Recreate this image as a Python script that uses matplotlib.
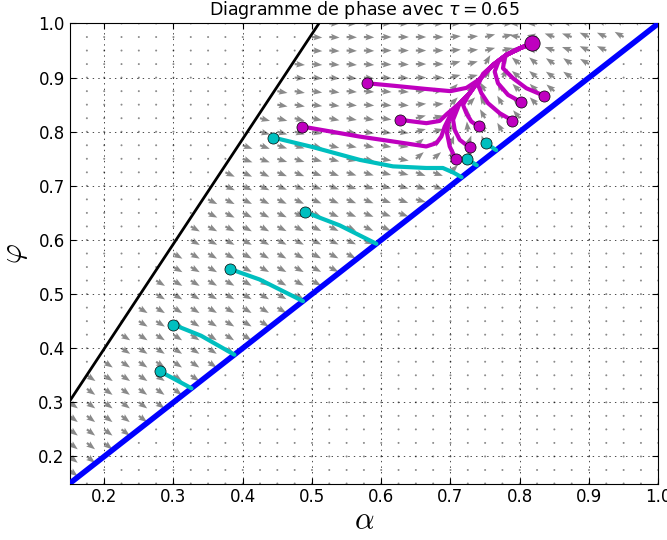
import numpy as np
import matplotlib
matplotlib.use("Agg")
import matplotlib.pyplot as plt

N = np.nan

# Phase-diagram boundaries
blue_alpha = [0.15, 1.0]
blue_phi = [0.15, 1.0]
black_alpha = [0.15, 0.51]
black_phi = [0.302, 1.0]

# Direction of the gray arrows, screen degrees, one value per 0.05 x 0.05 cell.
# Rows go from phi = 1.0 (top) down to phi = 0.15; columns alpha = 0.15 ... 1.0
arrow_angles = [
    [N, N, N, N, N, N, N, 0, 0, 0, 0, 0, 0, 180, 170, 160, 155, N],
    [N, N, N, N, N, N, -3, -3, -2, 0, 0, 5, 15, 170, 160, 155, 150, N],
    [N, N, N, N, N, N, -5, -5, -5, -3, 0, 15, 60, 140, 145, 150, N, N],
    [N, N, N, N, N, -10, -10, -8, -5, -5, 5, 45, 120, 135, 140, N, N, N],
    [N, N, N, N, N, -15, -15, -12, -10, -8, 15, 95, 120, 130, N, N, N, N],
    [N, N, N, N, -22, -20, -18, -15, -12, -10, 40, 70, 110, N, N, N, N, N],
    [N, N, N, N, -25, -25, -22, -20, -18, -15, -20, 45, N, N, N, N, N, N],
    [N, N, N, -27, -27, -26, -25, -23, -22, -20, -15, N, N, N, N, N, N, N],
    [N, N, N, -29, -28, -28, -27, -26, -25, -24, N, N, N, N, N, N, N, N],
    [N, N, -30, -30, -30, -29, -29, -28, -28, N, N, N, N, N, N, N, N, N],
    [N, N, -31, -31, -30, -30, -29, -29, N, N, N, N, N, N, N, N, N, N],
    [N, -32, -32, -32, -31, -31, -31, N, N, N, N, N, N, N, N, N, N, N],
    [N, -33, -33, -33, -33, -33, N, N, N, N, N, N, N, N, N, N, N, N],
    [-34, -34, -34, -34, -34, N, N, N, N, N, N, N, N, N, N, N, N, N],
    [-36, -36, -36, -36, N, N, N, N, N, N, N, N, N, N, N, N, N, N],
    [-37, -37, -37, N, N, N, N, N, N, N, N, N, N, N, N, N, N, N],
    [-38, -38, N, N, N, N, N, N, N, N, N, N, N, N, N, N, N, N],
    [-38, N, N, N, N, N, N, N, N, N, N, N, N, N, N, N, N, N],
]

# Cyan trajectories (end on the diagonal)
cyan_1_alpha = [0.2805, 0.300, 0.326]
cyan_1_phi = [0.357, 0.344, 0.326]
cyan_2_alpha = [0.2997, 0.340, 0.388]
cyan_2_phi = [0.4437, 0.423, 0.388]
cyan_3_alpha = [0.3815, 0.4248, 0.487]
cyan_3_phi = [0.5465, 0.5268, 0.487]
cyan_4_alpha = [0.4897, 0.540, 0.593]
cyan_4_phi = [0.6517, 0.627, 0.593]
cyan_5_alpha = [0.4439, 0.500, 0.569, 0.617, 0.665, 0.689, 0.705, 0.716]
cyan_5_phi = [0.7893, 0.772, 0.748, 0.736, 0.733, 0.733, 0.724, 0.716]
cyan_6_alpha = [0.7239, 0.738]
cyan_6_phi = [0.7494, 0.738]
cyan_7_alpha = [0.7508, 0.766]
cyan_7_phi = [0.7789, 0.766]

# Shared upper part of the magenta trajectories, ending on the attractor
trunk_alpha = [0.742, 0.7614, 0.7806, 0.7999, 0.8182]
trunk_phi = [0.897, 0.9234, 0.9419, 0.9542, 0.9634]

mag_a_alpha = [0.5796, 0.620, 0.665, 0.700, 0.723] + trunk_alpha
mag_a_phi = [0.8896, 0.8847, 0.879, 0.875, 0.881] + trunk_phi
mag_b_alpha = [0.4858, 0.569, 0.617, 0.665, 0.6796, 0.6868, 0.6917, 0.6989, 0.7133, 0.7277] + trunk_alpha
mag_b_phi = [0.8096, 0.791, 0.782, 0.7728, 0.7789, 0.7912, 0.8097, 0.8281, 0.8527, 0.8712] + trunk_phi
mag_c_alpha = [0.6267, 0.6652, 0.6844, 0.6950, 0.7133, 0.7277] + trunk_alpha
mag_c_phi = [0.822, 0.8158, 0.820, 0.833, 0.8527, 0.8712] + trunk_phi
mag_d_alpha = [0.7075, 0.6989, 0.6950, 0.6965, 0.7037, 0.7133, 0.7277] + trunk_alpha
mag_d_phi = [0.7494, 0.7728, 0.7974, 0.8158, 0.840, 0.8527, 0.8712] + trunk_phi
mag_e_alpha = [0.7277, 0.7133, 0.7061, 0.7037, 0.7133, 0.7277] + trunk_alpha
mag_e_phi = [0.7709, 0.7851, 0.8035, 0.822, 0.8527, 0.8712] + trunk_phi
mag_f_alpha = [0.7407, 0.7301, 0.7229, 0.7181, 0.7277] + trunk_alpha
mag_f_phi = [0.8097, 0.8189, 0.8343, 0.8496, 0.8712] + trunk_phi
mag_g_alpha = [0.7893, 0.771, 0.7542, 0.7446, 0.7398, 0.747] + trunk_alpha[1:]
mag_g_phi = [0.8207, 0.8343, 0.8527, 0.8712, 0.8865, 0.907] + trunk_phi[1:]
mag_h_alpha = [0.8023, 0.7831, 0.7686, 0.7638, 0.770] + trunk_alpha[2:]
mag_h_phi = [0.8546, 0.8681, 0.8896, 0.9111, 0.932] + trunk_phi[2:]
mag_i_alpha = [0.8345, 0.8095, 0.7903, 0.7758, 0.778] + trunk_alpha[2:]
mag_i_phi = [0.8668, 0.8804, 0.8988, 0.9173, 0.935] + trunk_phi[2:]

cyan_curves = [
    (cyan_1_alpha, cyan_1_phi), (cyan_2_alpha, cyan_2_phi),
    (cyan_3_alpha, cyan_3_phi), (cyan_4_alpha, cyan_4_phi),
    (cyan_5_alpha, cyan_5_phi), (cyan_6_alpha, cyan_6_phi),
    (cyan_7_alpha, cyan_7_phi),
]
magenta_curves = [
    (mag_a_alpha, mag_a_phi), (mag_b_alpha, mag_b_phi), (mag_c_alpha, mag_c_phi),
    (mag_d_alpha, mag_d_phi), (mag_e_alpha, mag_e_phi), (mag_f_alpha, mag_f_phi),
    (mag_g_alpha, mag_g_phi), (mag_h_alpha, mag_h_phi), (mag_i_alpha, mag_i_phi),
]

CYAN = (0.0, 0.75, 0.75)
MAGENTA = (0.75, 0.0, 0.75)

plt.rcParams["font.size"] = 12
plt.rcParams["xtick.direction"] = "in"
plt.rcParams["ytick.direction"] = "in"
plt.rcParams["lines.scale_dashes"] = False

fig = plt.figure(figsize=(6.67, 5.4), dpi=100)
ax = fig.add_axes([0.1043, 0.1046, 0.8826, 0.8519])

# Arrow field on a 0.025 grid; zero vectors show as small dots
grid_alpha = np.linspace(0.15, 1.0, 35)
grid_phi = np.linspace(0.15, 1.0, 35)
A, P = np.meshgrid(grid_alpha, grid_phi)
table = np.array(arrow_angles, dtype=float)[::-1]
col = np.minimum(((A - 0.15) / 0.05 + 1e-6).astype(int), 17)
row = np.minimum(((P - 0.15) / 0.05 + 1e-6).astype(int), 17)
ang = table[row, col]
inside = (P > A + 1e-9) & (P <= np.interp(A, black_alpha, black_phi) + 1e-9) & ~np.isnan(ang)
ang = np.deg2rad(np.nan_to_num(ang))
U = np.where(inside, np.cos(ang), 0.0)
V = np.where(inside, np.sin(ang), 0.0)
ax.quiver(A, P, U, V, angles="uv", pivot="tail", scale_units="width", scale=57,
          width=0.0037, headwidth=3, headlength=4, headaxislength=3.5,
          color="#8a8a8a", zorder=1)

ax.plot(black_alpha, black_phi, color="k", lw=2, zorder=3)
ax.plot(blue_alpha, blue_phi, color="b", lw=4, zorder=3)

for a, p in cyan_curves:
    ax.plot(a, p, color=CYAN, lw=3, solid_capstyle="round", zorder=4)
    ax.plot(a[0], p[0], "o", color=CYAN, ms=8, mec="k", mew=0.5, zorder=5)

for a, p in magenta_curves:
    ax.plot(a, p, color=MAGENTA, lw=3, solid_capstyle="round", zorder=4)
    ax.plot(a[0], p[0], "o", color=MAGENTA, ms=8, mec="k", mew=0.5, zorder=5)
ax.plot(trunk_alpha[-1], trunk_phi[-1], "o", color=MAGENTA, ms=11, mec="k", mew=0.5, zorder=5)

ax.set_xlim(0.15, 1.0)
ax.set_ylim(0.15, 1.0)
ax.set_xticks(np.arange(0.2, 1.01, 0.1))
ax.set_yticks(np.arange(0.2, 1.01, 0.1))
ax.tick_params(top=True, right=True, length=4)
ax.grid(True, linestyle=(0, (1, 3)), color="k", lw=0.5)
ax.set_axisbelow(False)

ax.set_title(r"Diagramme de phase avec $\tau=0.65$", fontsize=12.5)
ax.set_xlabel(r"$\alpha$", fontsize=22, math_fontfamily="cm", labelpad=0)
ax.set_ylabel(r"$\varphi$", fontsize=22, math_fontfamily="cm", labelpad=6)

fig.savefig("out.png", dpi=100, facecolor="white")
